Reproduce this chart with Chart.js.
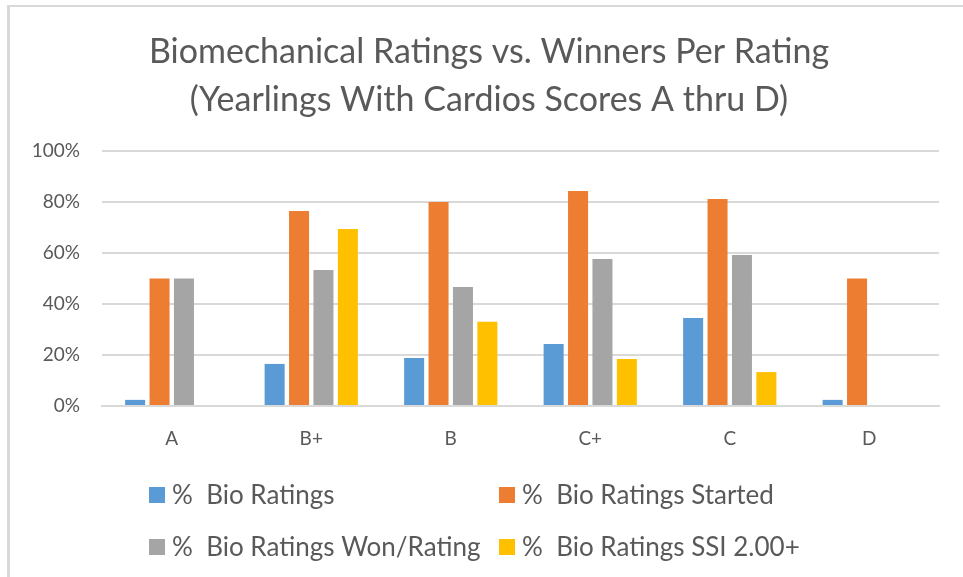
<!DOCTYPE html>
<html>
<head>
<meta charset="utf-8">
<script src="https://cdn.jsdelivr.net/npm/chart.js@4.4.0/dist/chart.umd.min.js"></script>
<style>
  html, body { margin: 0; padding: 0; background: #fff; }
  #wrap { width: 963px; height: 577px; position: relative; }
</style>
</head>
<body>
<div id="wrap"><canvas id="chart" width="963" height="577"></canvas></div>
<script>
const categories = ['A', 'B+', 'B', 'C+', 'C', 'D'];
const bioRatings = [2.4, 16.5, 18.8, 24.3, 34.5, 2.4];
const bioStarted = [50, 76.5, 80, 84.3, 81.2, 50];
const bioWon = [50, 53.3, 46.7, 57.6, 59.2, 0];
const bioSSI = [0, 69.4, 33, 18.4, 13.3, 0];
const seriesNames = ['%  Bio Ratings', '%  Bio Ratings Started', '%  Bio Ratings Won/Rating', '%  Bio Ratings SSI 2.00+'];
const seriesColors = ['#5b9bd5', '#ed7d31', '#a5a5a5', '#ffc000'];
const yTicks = [0, 20, 40, 60, 80, 100];
const titleLines = ['Biomechanical Ratings vs. Winners Per Rating', '(Yearlings With Cardios Scores A thru D)'];

const textColor = '#595959';
const fontFamily = 'Lato, "Open Sans", sans-serif';

// frame lines, title and a 2x2 legend like the Excel original
const frameAndLegend = {
  id: 'frameAndLegend',
  beforeDraw(chart) {
    const c = chart.ctx;
    c.save();
    c.fillStyle = '#d9d9d9';
    c.fillRect(7, 5, 3, 572);
    c.fillRect(7, 5, 956, 2);
    c.restore();
  },
  afterDraw(chart) {
    const c = chart.ctx;
    c.save();
    c.fillStyle = textColor;
    c.textBaseline = 'middle';
    c.textAlign = 'center';
    c.font = '34px ' + fontFamily;
    titleLines.forEach((t, i) => c.fillText(t, 489, 52 + i * 48));

    const cols = [149, 499];
    const rows = [495, 547];
    c.textAlign = 'left';
    c.font = '26px ' + fontFamily;
    chart.data.datasets.forEach((ds, i) => {
      const x = cols[i % 2];
      const y = rows[Math.floor(i / 2)];
      c.fillStyle = ds.backgroundColor;
      c.fillRect(x, y - 8, 16, 16);
      c.fillStyle = textColor;
      c.fillText(ds.label, x + 23, y + 1);
    });
    c.restore();
  }
};

const datasets = [bioRatings, bioStarted, bioWon, bioSSI].map((d, i) => ({
  label: seriesNames[i],
  data: d,
  backgroundColor: seriesColors[i],
  borderWidth: 0,
  categoryPercentage: 0.70,
  barPercentage: 0.82
}));

new Chart(document.getElementById('chart').getContext('2d'), {
  type: 'bar',
  data: { labels: categories, datasets: datasets },
  options: {
    responsive: false,
    animation: false,
    layout: { padding: { left: 0, right: 24, top: 151, bottom: 111 } },
    plugins: {
      legend: { display: false },
      tooltip: { enabled: false },
      title: { display: false }
    },
    scales: {
      x: {
        grid: { display: false, drawTicks: false },
        border: { display: true, color: '#d9d9d9', width: 2 },
        ticks: { color: textColor, font: { family: fontFamily, size: 19 }, padding: 21 },
        afterFit: (s) => { s.height = 60; }
      },
      y: {
        min: 0,
        max: 100,
        afterBuildTicks: (s) => { s.ticks = yTicks.map(v => ({ value: v })); },
        grid: { color: '#d9d9d9', lineWidth: 2, drawTicks: false },
        border: { display: false },
        ticks: {
          color: textColor,
          font: { family: fontFamily, size: 19 },
          padding: 22,
          callback: (v) => v + '%'
        },
        afterFit: (s) => { s.width = 102; }
      }
    }
  },
  plugins: [frameAndLegend]
});
</script>
</body>
</html>
